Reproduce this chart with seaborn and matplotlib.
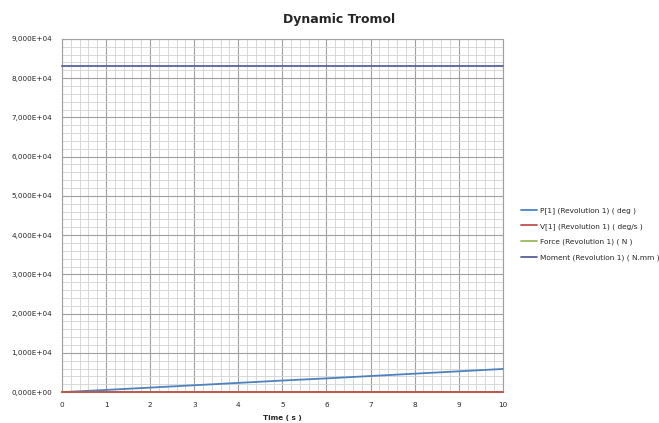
import matplotlib
matplotlib.use("Agg")
import matplotlib.pyplot as plt
from matplotlib.ticker import MultipleLocator, FuncFormatter
import seaborn as sns
import pandas as pd

time_s = [0, 1, 2, 3, 4, 5, 6, 7, 8, 9, 10]
p1_deg = [0, 560, 1150, 1750, 2350, 2950, 3500, 4100, 4700, 5300, 5900]
v1_degs = [150, 150, 150, 150, 150, 150, 150, 150, 150, 150, 150]
force_n = [0, 0, 0, 0, 0, 0, 0, 0, 0, 0, 0]
moment_nmm = [83200, 83200, 83200, 83200, 83200, 83200, 83200, 83200, 83200, 83200, 83200]

series_names = [
    "P[1] (Revolution 1) ( deg )",
    "V[1] (Revolution 1) ( deg/s )",
    "Force (Revolution 1) ( N )",
    "Moment (Revolution 1) ( N.mm )",
]
series_values = [p1_deg, v1_degs, force_n, moment_nmm]
colors = ["#4F81BD", "#C0504D", "#9BBB59", "#5B5F9E"]

rows = []
for name, vals in zip(series_names, series_values):
    for t, v in zip(time_s, vals):
        rows.append({"Time": t, "Value": v, "Series": name})
df = pd.DataFrame(rows)

sns.set_style("white")
plt.rcParams["font.family"] = ["DejaVu Sans"]

fig = plt.figure(figsize=(6.59, 4.23), dpi=100)
ax = fig.add_axes([0.094, 0.073, 0.669, 0.835])

sns.lineplot(data=df, x="Time", y="Value", hue="Series", palette=colors,
             hue_order=series_names, ax=ax, linewidth=1.3, legend=True)
for i, ln in enumerate(ax.get_lines()):
    ln.set_clip_on(False)
    ln.set_zorder(4 if i == 1 else 3)

ax.set_xlim(0, 10)
ax.set_ylim(0, 90000)
ax.xaxis.set_major_locator(MultipleLocator(1))
ax.xaxis.set_minor_locator(MultipleLocator(0.2))
ax.yaxis.set_major_locator(MultipleLocator(10000))
ax.yaxis.set_minor_locator(MultipleLocator(2000))

def fmt(v, pos):
    s = "%.3E" % v
    mant, exp = s.split("E")
    e = int(exp)
    return "%sE%s%02d" % (mant.replace(".", ","), "+" if e >= 0 else "-", abs(e))

ax.yaxis.set_major_formatter(FuncFormatter(fmt))
ax.grid(which="major", color="#a0a0a0", linewidth=0.8)
ax.grid(which="minor", color="#d2d2d2", linewidth=0.6)
ax.set_axisbelow(True)
ax.tick_params(axis="y", labelsize=5.2, length=0, pad=7)
ax.tick_params(axis="x", labelsize=5.2, length=0, pad=7)
for s in ax.spines.values():
    s.set_color("#a0a0a0")
    s.set_linewidth(0.8)

ax.set_xlabel("Time ( s )", fontsize=5.2, fontweight="bold", labelpad=5)
ax.set_ylabel("")
fig.text(339 / 659, 1 - 20 / 423, "Dynamic Tromol", fontsize=9, fontweight="bold",
         ha="center", va="center")

leg = ax.legend(loc="center left", bbox_to_anchor=(1.035, 0.448), fontsize=5.3,
                frameon=False, handlelength=2.2, handletextpad=0.35,
                labelspacing=1.2, borderaxespad=0)

fig.savefig("out.png", dpi=100, facecolor="white")
